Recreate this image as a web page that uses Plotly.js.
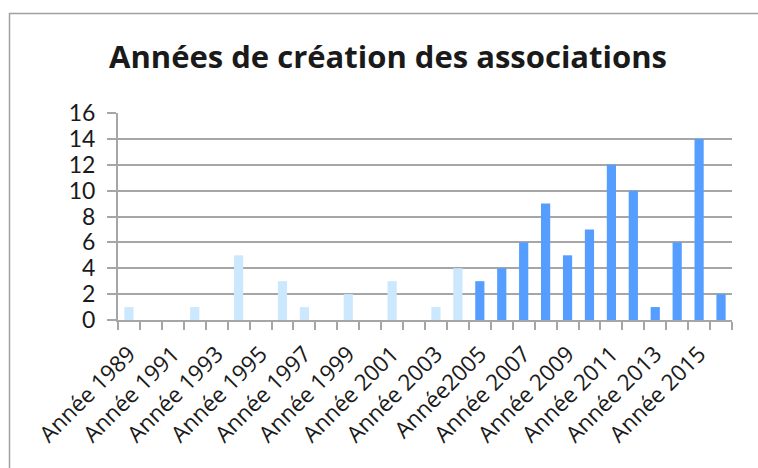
<!DOCTYPE html>
<html>
<head>
<meta charset="utf-8">
<script src="https://cdn.plot.ly/plotly-3.0.1.min.js"></script>
<style>
html,body{margin:0;padding:0;background:#fff;}
#chart{width:758px;height:468px;}
text{font-variant-ligatures:none;}
</style>
</head>
<body>
<div id="chart"></div>
<script>
// Data
const years = [1989,1990,1991,1992,1993,1994,1995,1996,1997,1998,1999,2000,2001,2002,
               2003,2004,2005,2006,2007,2008,2009,2010,2011,2012,2013,2014,2015,2016];
const categories = years.map(y => y === 2005 ? "Année2005" : "Année " + y);
const counts = [1,0,0,1,0,5,0,3,1,0,2,0,3,0,
                1,4,3,4,6,9,5,7,12,10,1,6,14,2];
const tickLabels = categories.map((c, i) => i % 2 === 0 ? c : "");
const splitYear = 2005;

const LIGHT = "#CCE8FF", DARK = "#559DFF";
const colors = years.map(y => y >= splitYear ? DARK : LIGHT);

const W = 758, H = 468;
const m = {l:118, r:26, t:113, b:148};
const pw = W - m.l - m.r, ph = H - m.t - m.b;
const fx = px => (px - m.l) / pw;
const fy = py => 1 - (py - m.t) / ph;

const FONT = "'Open Sans', sans-serif";
const NUMFONT = "Lato, 'Open Sans', sans-serif";
const GRID = "#a6a6a6";

Plotly.newPlot("chart", [{
  type: "bar",
  x: categories,
  y: counts,
  marker: {color: colors},
  width: 0.42,
  hoverinfo: "x+y"
}], {
  width: W, height: H,
  margin: m,
  paper_bgcolor: "#fff",
  plot_bgcolor: "#fff",
  showlegend: false,
  title: {
    text: "<b>Années de création des associations</b>",
    font: {family: FONT, size: 31, color: "#1a1a1a"},
    x: 388 / W, xanchor: "center",
    y: 1 - 57 / H, yanchor: "middle"
  },
  xaxis: {
    type: "category",
    tickvals: categories,
    ticktext: tickLabels,
    tickangle: -45,
    tickson: "boundaries",
    ticks: "outside", ticklen: 8, tickwidth: 2, tickcolor: GRID,
    showline: true, linecolor: GRID, linewidth: 2,
    showgrid: false,
    ticklabelstandoff: 10,
    tickfont: {family: FONT, size: 22.5, color: "#1a1a1a"},
    range: [-0.5, categories.length - 0.5],
    fixedrange: true
  },
  yaxis: {
    range: [0, 16],
    dtick: 2,
    ticks: "outside", ticklen: 9, tickwidth: 2, tickcolor: GRID,
    showline: true, linecolor: GRID, linewidth: 2,
    showgrid: true, gridcolor: GRID, gridwidth: 2,
    zeroline: false,
    ticklabelstandoff: 7,
    tickfont: {family: NUMFONT, size: 23, color: "#1a1a1a"},
    fixedrange: true
  },
  shapes: [{
    type: "rect", xref: "paper", yref: "paper",
    x0: fx(9.5), x1: fx(W + 20), y0: fy(H + 20), y1: fy(13.5),
    line: {color: "#a0a0a0", width: 1.5}, fillcolor: "rgba(0,0,0,0)",
    layer: "below"
  }]
}, {displayModeBar: false, staticPlot: true});
</script>
</body>
</html>
